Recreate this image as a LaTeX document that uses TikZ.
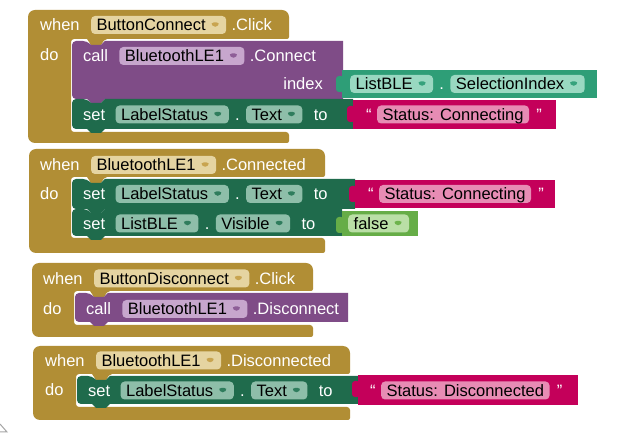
\documentclass[tikz,border=0pt]{standalone}
\usepackage{fontspec}
\setmainfont{Liberation Sans}
\usetikzlibrary{positioning}

\definecolor{evt}{HTML}{B18E35}
\definecolor{pillevt}{HTML}{E5D4A1}
\definecolor{arrevt}{HTML}{C8A450}
\definecolor{callc}{HTML}{7F4C87}
\definecolor{pillcall}{HTML}{C7A6CD}
\definecolor{arrcall}{HTML}{8E5E97}
\definecolor{setc}{HTML}{1F6B4C}
\definecolor{pillset}{HTML}{8EBEA9}
\definecolor{arrset}{HTML}{2F7D5D}
\definecolor{getc}{HTML}{2E9E77}
\definecolor{pillget}{HTML}{99D8C1}
\definecolor{arrget}{HTML}{35A27C}
\definecolor{textc}{HTML}{C4005A}
\definecolor{pillstr}{HTML}{E78CB4}
\definecolor{logicc}{HTML}{66AD47}
\definecolor{pilllogic}{HTML}{BADFA6}
\definecolor{arrlogic}{HTML}{6DB34C}

% dropdown arrow inside a field
\newcommand{\dd}[1]{\hspace{4pt}\tikz[baseline=0pt]\fill[#1] (0pt,8.5pt) -- (11pt,8.5pt) -- (5.5pt,2.5pt) -- cycle;}
% event block: x1, y1, x2, slot top, slot left, slot bottom, y2
\newcommand{\eventblock}[7]{\fill[evt] (#1,#7) [rounded corners=7pt] -- (#1,#2) -- (#3,#2) [rounded corners=2pt] -- (#3,#4) -- (#5+34,#4) [sharp corners] -- (#5+30,#4+6) -- (#5+20,#4+6) -- (#5+16,#4) [rounded corners=3pt] -- (#5,#4) -- (#5,#6) -- (#3,#6) [rounded corners=2pt] -- (#3,#7) [rounded corners=7pt] -- cycle;}
% statement block: colour, x1, y1, x2, y2
\newcommand{\stmtblock}[5]{\fill[#1] (#2+15,#3) -- (#2+19,#3+4) -- (#2+29,#3+4) -- (#2+33,#3) -- (#4,#3) -- (#4,#5) -- (#2+33,#5) -- (#2+29,#5+4) -- (#2+19,#5+4) -- (#2+15,#5) [rounded corners=4pt] -- (#2,#5) -- (#2,#3) -- cycle;}
% value block: colour, x1, y1, x2, y2
\newcommand{\valblock}[5]{\fill[#1] (#2,#3) rectangle (#4,#5); \fill[#1, rounded corners=3pt] (#2+2,#3+6) -- (#2-6,#3+6) -- (#2-6,#3+22) -- (#2+2,#3+22) -- cycle;}

\begin{document}
\begin{tikzpicture}[x=1pt, y=-1pt,
every node/.style={font=\fontsize{16.5}{18}\selectfont, inner sep=0pt, text height=15pt, text depth=3pt},
kw/.style={text=white},
pill/.style={fill=#1, text=black, rounded corners=4pt, inner xsep=5.5pt}]
\fill[white] (0,0) rectangle (638,446);
\useasboundingbox (0,0) rectangle (638,446);

% when ButtonConnect.Click
\eventblock{28}{10}{289}{39}{71}{132}{143}
\stmtblock{callc}{72}{41}{343}{99}
\valblock{getc}{342}{70}{597}{98}
\stmtblock{setc}{72}{99}{353}{129}
\valblock{textc}{353}{100}{556}{129}

\node[kw, anchor=west] (when1) at (40,25) {when};
\node[pill=pillevt, right=11pt of when1] (btn1) {ButtonConnect\dd{arrevt}};
\node[kw, right=5pt of btn1] (click1) {.Click};
\node[kw, anchor=west] (do1) at (40,55) {do};
\node[kw, anchor=west] (call1) at (83,56) {call};
\node[pill=pillcall, right=11pt of call1] (ble1) {BluetoothLE1\dd{arrcall}};
\node[kw, right=5pt of ble1] (connect1) {.Connect};
\node[kw, anchor=east] (index1) at (323,84) {index};
\node[pill=pillget, anchor=west] (list1) at (350,84) {ListBLE\dd{arrget}};
\node[kw, right=6pt of list1] (dot1) {.};
\node[pill=pillget, right=6pt of dot1] (sel1) {SelectionIndex\dd{arrget}};
\node[kw, anchor=west] (set1) at (83,114.5) {set};
\node[pill=pillset, right=10pt of set1] (lbl1) {LabelStatus\dd{arrset}};
\node[kw, right=6pt of lbl1] (dot2) {.};
\node[pill=pillset, right=6pt of dot2] (txt1) {Text\dd{arrset}};
\node[kw, right=11pt of txt1] (to1) {to};
\node[kw, anchor=west] (oq1) at (366,114.5) {“};
\node[pill=pillstr, right=5pt of oq1] (str1) {Status: Connecting};
\node[kw, right=7pt of str1] (cq1) {”};

% when BluetoothLE1.Connected
\eventblock{29}{149}{325}{177}{71}{238}{253}
\stmtblock{setc}{72}{179}{355}{209}
\valblock{textc}{355}{180}{555}{208}
\stmtblock{setc}{72}{209}{342}{236}
\valblock{logicc}{342}{211}{418}{236}

\node[kw, anchor=west] (when2) at (40,165) {when};
\node[pill=pillevt, right=11pt of when2] (ble2) {BluetoothLE1\dd{arrevt}};
\node[kw, right=5pt of ble2] (connected2) {.Connected};
\node[kw, anchor=west] (do2) at (40,194) {do};
\node[kw, anchor=west] (set2) at (83,194) {set};
\node[pill=pillset, right=10pt of set2] (lbl2) {LabelStatus\dd{arrset}};
\node[kw, right=6pt of lbl2] (dot3) {.};
\node[pill=pillset, right=6pt of dot3] (txt2) {Text\dd{arrset}};
\node[kw, right=11pt of txt2] (to2) {to};
\node[kw, anchor=west] (oq2) at (368,194) {“};
\node[pill=pillstr, right=5pt of oq2] (str2) {Status: Connecting};
\node[kw, right=7pt of str2] (cq2) {”};
\node[kw, anchor=west] (set3) at (83,223.5) {set};
\node[pill=pillset, right=10pt of set3] (list2) {ListBLE\dd{arrset}};
\node[kw, right=6pt of list2] (dot4) {.};
\node[pill=pillset, right=6pt of dot4] (vis2) {Visible\dd{arrset}};
\node[kw, right=11pt of vis2] (to3) {to};
\node[pill=pilllogic, anchor=west] (false2) at (348,223.5) {false\dd{arrlogic}};

% when ButtonDisconnect.Click
\eventblock{32}{263}{313}{291}{74}{325}{337}
\stmtblock{callc}{75}{293}{348}{322}

\node[kw, anchor=west] (when3) at (43,278.5) {when};
\node[pill=pillevt, right=11pt of when3] (btn3) {ButtonDisconnect\dd{arrevt}};
\node[kw, right=5pt of btn3] (click3) {.Click};
\node[kw, anchor=west] (do3) at (43,309) {do};
\node[kw, anchor=west] (call3) at (86,309) {call};
\node[pill=pillcall, right=11pt of call3] (ble3) {BluetoothLE1\dd{arrcall}};
\node[kw, right=5pt of ble3] (disconnect3) {.Disconnect};

% when BluetoothLE1.Disconnected
\eventblock{33}{346}{350}{374}{76}{407}{420}
\stmtblock{setc}{77}{376}{358}{404}
\valblock{textc}{358}{375}{578}{405}

\node[kw, anchor=west] (when4) at (45,360.5) {when};
\node[pill=pillevt, right=11pt of when4] (ble4) {BluetoothLE1\dd{arrevt}};
\node[kw, right=5pt of ble4] (disconnected4) {.Disconnected};
\node[kw, anchor=west] (do4) at (45,390) {do};
\node[kw, anchor=west] (set4) at (88,390.5) {set};
\node[pill=pillset, right=10pt of set4] (lbl4) {LabelStatus\dd{arrset}};
\node[kw, right=6pt of lbl4] (dot5) {.};
\node[pill=pillset, right=6pt of dot5] (txt4) {Text\dd{arrset}};
\node[kw, right=11pt of txt4] (to4) {to};
\node[kw, anchor=west] (oq4) at (370,390.5) {“};
\node[pill=pillstr, right=5pt of oq4] (str4) {Status: Disconnected};
\node[kw, right=7pt of str4] (cq4) {”};

% warning marker, cut off at the corner
\draw[gray!70, line width=1pt] (-6,432) -- (7,432) -- (0,424);
\end{tikzpicture}
\end{document}
